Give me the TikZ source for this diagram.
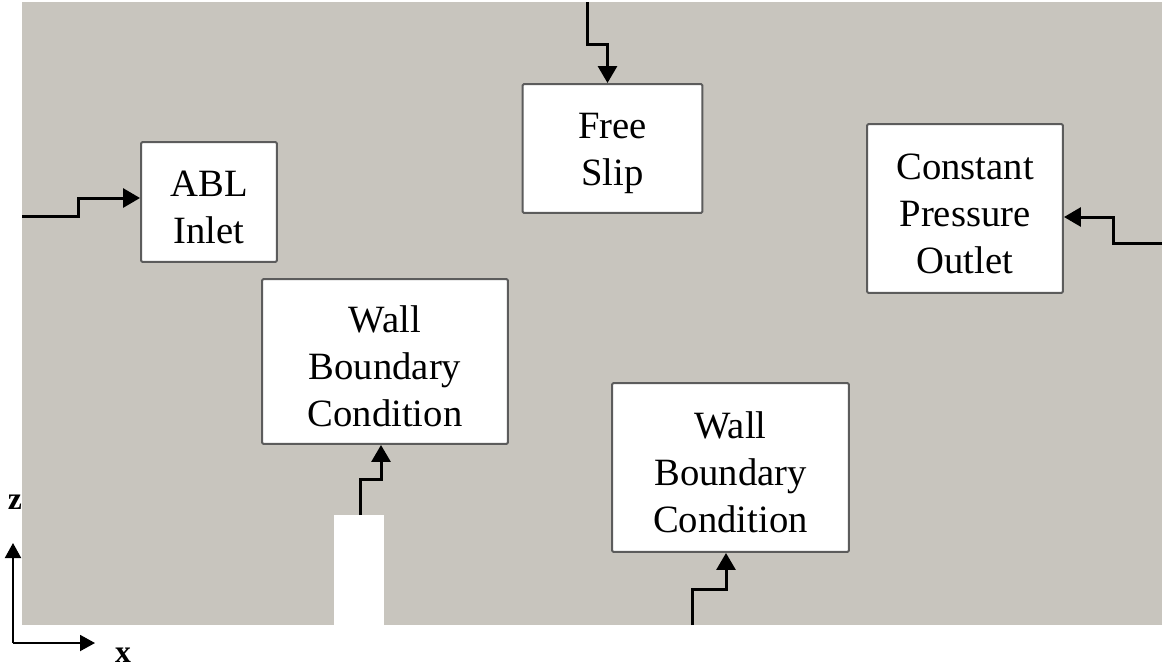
\documentclass[tikz,border=0pt]{standalone}
\usepackage{fontspec}
\setmainfont{Liberation Serif}
\usetikzlibrary{arrows.meta}
\definecolor{dominiogrigio}{HTML}{C8C5BE}
\definecolor{bordoscuro}{HTML}{5C5C5C}

\begin{document}
\begin{tikzpicture}[x=0.02cm,y=-0.02cm,
  contorno/.style={draw=bordoscuro, line width=0.04cm, fill=white, rounded corners=0.03cm, inner sep=0pt},
  testo/.style={align=center, inner sep=0pt, yshift=-0.1cm, font=\fontsize{22}{26.7}\selectfont},
  freccia/.style={line width=0.06cm, -{Triangle[length=0.34cm,width=0.38cm]}},
  asse/.style={line width=0.04cm, -{Triangle[length=0.3cm,width=0.32cm]}},
  etichettaasse/.style={inner sep=0pt, font=\bfseries\fontsize{18}{20}\selectfont}]

  % ---- Pagina e dominio di calcolo (grigio) -------------------------------
  \useasboundingbox (0,0) rectangle (1162,667);
  \fill[white] (0,0) rectangle (1162,667);
  \fill[dominiogrigio] (22,2) rectangle (1162,625);

  % Edificio bianco, appoggiato al fondo
  \fill[white] (334,515) rectangle (384,625);

  % ---- Le cinque condizioni al contorno -------------------------------------
  % il testo va come etichetta al centro, un po' piu' in basso del riquadro
  \node[contorno, minimum width=2.72cm, minimum height=2.4cm,
        label={[testo]center:{ABL\\Inlet}}] (abl) at (209,202) {};
  \node[contorno, minimum width=3.6cm, minimum height=2.58cm,
        label={[testo]center:{Free\\Slip}}] (slip) at (612.5,148.5) {};
  \node[contorno, minimum width=3.92cm, minimum height=3.38cm,
        label={[testo]center:{Constant\\Pressure\\Outlet}}] (outlet) at (965,208.5) {};
  \node[contorno, minimum width=4.92cm, minimum height=3.3cm,
        label={[testo]center:{Wall\\Boundary\\Condition}}] (muro) at (385,361.5) {};
  \node[contorno, minimum width=4.74cm, minimum height=3.38cm,
        label={[testo]center:{Wall\\Boundary\\Condition}}] (suolo) at (730.5,467.5) {};

  % Punti di partenza delle frecce (sui bordi del dominio)
  \coordinate (bordosx)  at (22,216);
  \coordinate (bordosu)  at (587,2);
  \coordinate (bordodx)  at (1162,243);
  \coordinate (tetto)    at (360,515);
  \coordinate (bordogiu) at (692,625);

  % ---- Frecce a gradino ----------------------------------------------------
  \draw[freccia] (bordosx) -- ++(56,0) |- ([yshift=0.08cm]abl.west);
  \draw[freccia] (bordosu) -- ++(0,42) -| ([xshift=-0.1cm]slip.north);
  \draw[freccia] (bordodx) -- ++(-49,0) |- ([yshift=-0.17cm]outlet.east);
  \draw[freccia] (tetto) -- ++(0,-36) -| ([xshift=-0.08cm]muro.south);
  \draw[freccia] (bordogiu) -- ++(0,-36) -| ([xshift=-0.09cm]suolo.south);

  % ---- Assi ----------------------------------------------------------------
  \coordinate (origine) at (13,643);
  \coordinate (puntaz)  at (13,543);
  \coordinate (puntax)  at (95,643);
  \draw[asse] (origine) -- (puntaz);
  \draw[asse] (origine) -- (puntax);
  \node[etichettaasse] (etz) at (15,502) {z};
  \node[etichettaasse] (etx) at (123,655) {x};

\end{tikzpicture}
\end{document}
